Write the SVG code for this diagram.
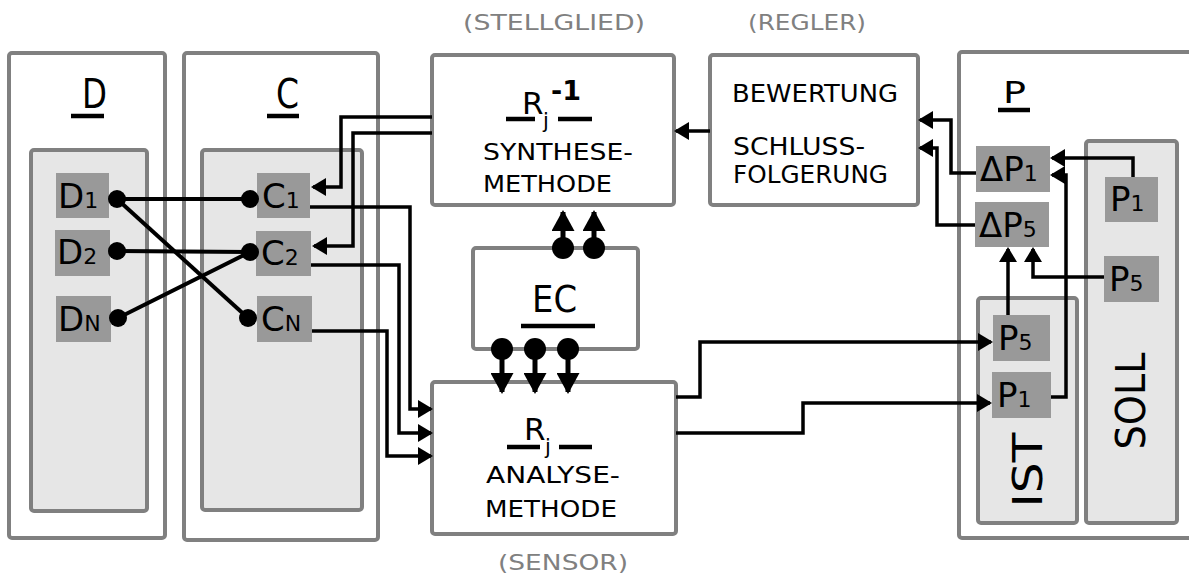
<svg xmlns="http://www.w3.org/2000/svg" width="1189" height="579" viewBox="0 0 1189 579">
<style>
.frame{fill:#fff;stroke:#808080;stroke-width:4}
.inner{fill:#e6e6e6;stroke:#808080;stroke-width:4}
.lbl{fill:#999999}
.t{font-family:"DejaVu Sans",sans-serif;fill:#000}
.g{font-family:"DejaVu Sans",sans-serif;fill:#808080;font-size:21px}
.c{fill:none;stroke:#000;stroke-width:3.5}
.cd{fill:none;stroke:#000;stroke-width:4}
.ce{fill:none;stroke:#000;stroke-width:5}
.ul{stroke:#000;stroke-width:4.5}
.lt{font-family:"DejaVu Sans",sans-serif;font-size:34px;fill:#000}
.sub{font-size:22px}
</style>
<defs>
<marker id="a" markerUnits="userSpaceOnUse" markerWidth="16" markerHeight="18" refX="13" refY="9" orient="auto"><path d="M0,0 L15,9 L0,18 z" fill="#000"/></marker>
<marker id="b" markerUnits="userSpaceOnUse" markerWidth="22" markerHeight="23" refX="19" refY="11.5" orient="auto"><path d="M0,0 L21,11.5 L0,23 z" fill="#000"/></marker>
</defs>

<text class="g" x="463" y="30" textLength="182" lengthAdjust="spacingAndGlyphs">(STELLGLIED)</text>
<text class="g" x="748" y="30" textLength="118" lengthAdjust="spacingAndGlyphs">(REGLER)</text>
<text class="g" x="498" y="570" textLength="130" lengthAdjust="spacingAndGlyphs">(SENSOR)</text>

<g id="D">
<rect class="frame" x="9" y="53" width="156" height="485" rx="3"/>
<text class="t" x="82" y="108" font-size="40" textLength="25" lengthAdjust="spacingAndGlyphs">D</text>
<line class="ul" x1="71" y1="116" x2="104" y2="116"/>
<rect class="inner" x="31" y="150" width="116" height="361" rx="3"/>
<g id="D1"><rect class="lbl" x="56" y="173" width="53" height="45"/><text class="lt" x="58" y="208">D<tspan class="sub">1</tspan></text></g>
<g id="D2"><rect class="lbl" x="55" y="230" width="55" height="46"/><text class="lt" x="57" y="264">D<tspan class="sub">2</tspan></text></g>
<g id="DN"><rect class="lbl" x="56" y="296" width="55" height="46"/><text class="lt" x="58" y="331">D<tspan class="sub">N</tspan></text></g>
</g>

<g id="C">
<rect class="frame" x="184" y="53" width="194" height="487" rx="3"/>
<text class="t" x="276" y="108" font-size="40" textLength="23" lengthAdjust="spacingAndGlyphs">C</text>
<line class="ul" x1="267" y1="116" x2="299" y2="116"/>
<rect class="inner" x="202" y="150" width="160" height="360" rx="3"/>
<g id="C1"><rect class="lbl" x="257" y="173" width="53" height="45"/><text class="lt" x="262" y="208">C<tspan class="sub">1</tspan></text></g>
<g id="C2"><rect class="lbl" x="256" y="231" width="55" height="45"/><text class="lt" x="261" y="265">C<tspan class="sub">2</tspan></text></g>
<g id="CN"><rect class="lbl" x="257" y="296" width="55" height="46"/><text class="lt" x="261" y="331">C<tspan class="sub">N</tspan></text></g>
</g>

<g id="synthese">
<rect class="frame" x="432" y="55" width="242" height="150" rx="3"/>
<text class="t" x="522" y="114" font-size="31">R</text>
<text class="t" x="543" y="128" font-size="21">j</text>
<text class="t" x="551" y="100" font-size="27" font-weight="bold">-1</text>
<line class="ul" x1="506" y1="119" x2="535" y2="119"/>
<line class="ul" x1="558" y1="119" x2="592" y2="119"/>
<text class="t" x="483" y="160" font-size="23" textLength="150" lengthAdjust="spacingAndGlyphs">SYNTHESE-</text>
<text class="t" x="483" y="192" font-size="23" textLength="129" lengthAdjust="spacingAndGlyphs">METHODE</text>
</g>

<g id="bewertung">
<rect class="frame" x="710" y="55" width="208" height="150" rx="3"/>
<text class="t" x="732" y="102" font-size="25" textLength="166" lengthAdjust="spacingAndGlyphs">BEWERTUNG</text>
<text class="t" x="733" y="155" font-size="25" textLength="132" lengthAdjust="spacingAndGlyphs">SCHLUSS-</text>
<text class="t" x="733" y="183" font-size="25" textLength="155" lengthAdjust="spacingAndGlyphs">FOLGERUNG</text>
</g>

<g id="EC">
<rect class="frame" x="473" y="248" width="165" height="101" rx="3"/>
<text class="t" x="532" y="312" font-size="38" textLength="45" lengthAdjust="spacingAndGlyphs">EC</text>
<line class="ul" x1="521" y1="326" x2="595" y2="326"/>
</g>

<g id="analyse">
<rect class="frame" x="432" y="382" width="244" height="152" rx="3"/>
<text class="t" x="524" y="440" font-size="31">R</text>
<text class="t" x="545" y="454" font-size="21">j</text>
<line class="ul" x1="507" y1="447" x2="540" y2="447"/>
<line class="ul" x1="559" y1="447" x2="592" y2="447"/>
<text class="t" x="486" y="483" font-size="23" textLength="134" lengthAdjust="spacingAndGlyphs">ANALYSE-</text>
<text class="t" x="485" y="517" font-size="23" textLength="132" lengthAdjust="spacingAndGlyphs">METHODE</text>
</g>

<g id="P">
<rect class="frame" x="959" y="52" width="260" height="486" rx="3"/>
<text class="t" x="1003" y="103" font-size="30" textLength="23" lengthAdjust="spacingAndGlyphs">P</text>
<line class="ul" x1="998" y1="110" x2="1030" y2="110"/>
<g id="SOLL">
<rect class="inner" x="1086" y="141" width="91" height="382" rx="3"/>
<text class="t" transform="translate(1145,401) rotate(-90)" text-anchor="middle" font-size="40" textLength="97" lengthAdjust="spacingAndGlyphs">SOLL</text>
<g id="SP1"><rect class="lbl" x="1105" y="177" width="53" height="45"/><text class="lt" x="1110" y="211">P<tspan class="sub">1</tspan></text></g>
<g id="SP5"><rect class="lbl" x="1104" y="256" width="55" height="46"/><text class="lt" x="1109" y="291">P<tspan class="sub">5</tspan></text></g>
</g>
<g id="IST">
<rect class="inner" x="978" y="298" width="99" height="225" rx="3"/>
<text class="t" transform="translate(1042,470) rotate(-90)" text-anchor="middle" font-size="40" textLength="75" lengthAdjust="spacingAndGlyphs">IST</text>
<g id="IP5"><rect class="lbl" x="993" y="315" width="57" height="46"/><text class="lt" x="998" y="350">P<tspan class="sub">5</tspan></text></g>
<g id="IP1"><rect class="lbl" x="992" y="372" width="59" height="46"/><text class="lt" x="997" y="407">P<tspan class="sub">1</tspan></text></g>
</g>
<g id="dP1"><rect class="lbl" x="976" y="146" width="74" height="46"/><text class="lt" x="980" y="181">ΔP<tspan class="sub">1</tspan></text></g>
<g id="dP5"><rect class="lbl" x="975" y="202" width="74" height="45"/><text class="lt" x="979" y="237">ΔP<tspan class="sub">5</tspan></text></g>
</g>

<g id="connectors">
<path class="cd" d="M117,199 H250"/>
<path class="cd" d="M117,199 L248,318"/>
<path class="cd" d="M117,251 L250,252"/>
<path class="cd" d="M118,318 L250,252"/>
<circle cx="117" cy="199" r="9"/>
<circle cx="117" cy="251" r="9"/>
<circle cx="118" cy="318" r="9"/>
<circle cx="250" cy="199" r="9"/>
<circle cx="250" cy="252" r="9"/>
<circle cx="248" cy="318" r="9"/>
<path class="c" d="M432,117 H341 V187 H313" marker-end="url(#a)"/>
<path class="c" d="M432,133 H353 V246 H314" marker-end="url(#a)"/>
<path class="c" d="M310,207 H410 V409 H431" marker-end="url(#a)"/>
<path class="c" d="M311,265 H399 V433 H431" marker-end="url(#a)"/>
<path class="c" d="M312,331 H387 V456 H431" marker-end="url(#a)"/>
<path class="c" d="M710,131 H676" marker-end="url(#a)"/>
<path class="ce" d="M563,248 V212" marker-end="url(#b)"/>
<path class="ce" d="M594,248 V212" marker-end="url(#b)"/>
<path class="ce" d="M502,349 V392" marker-end="url(#b)"/>
<path class="ce" d="M535,349 V392" marker-end="url(#b)"/>
<path class="ce" d="M568,349 V392" marker-end="url(#b)"/>
<circle cx="563" cy="248" r="11"/>
<circle cx="594" cy="248" r="11"/>
<circle cx="502" cy="349" r="11"/>
<circle cx="535" cy="349" r="11"/>
<circle cx="568" cy="349" r="11"/>
<path class="c" d="M676,397 H700 V342 H991" marker-end="url(#a)"/>
<path class="c" d="M676,433 H803 V403 H990" marker-end="url(#a)"/>
<path class="c" d="M976,173 H951 V120 H920" marker-end="url(#a)"/>
<path class="c" d="M975,225 H937 V148 H920" marker-end="url(#a)"/>
<path class="c" d="M1133,177 V158 H1052" marker-end="url(#a)"/>
<path class="c" d="M1051,397 H1066 V175 H1052" marker-end="url(#a)"/>
<path class="c" d="M1008,315 V249" marker-end="url(#a)"/>
<path class="c" d="M1104,277 H1033 V249" marker-end="url(#a)"/>
</g>
</svg>
